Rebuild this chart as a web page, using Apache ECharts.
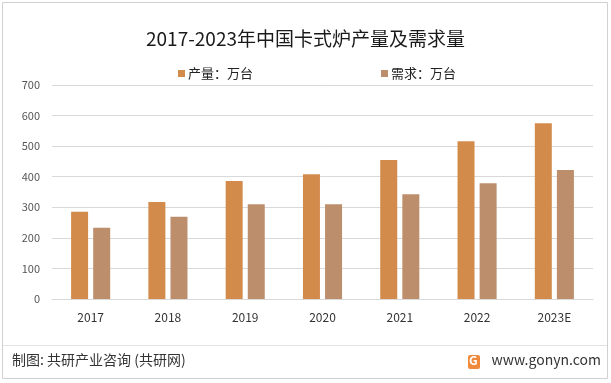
<!DOCTYPE html>
<html><head><meta charset="utf-8">
<script src="https://cdn.jsdelivr.net/npm/echarts@6/dist/echarts.min.js"></script>
<style>html,body{margin:0;padding:0;background:#fff}#c{width:611px;height:383px}</style>
</head><body><div id="c"></div>
<script>
var categories = ['2017','2018','2019','2020','2021','2022','2023E'];
var production = [285, 317, 386, 408, 455, 516, 575];
var demand = [233, 269, 310, 310, 343, 379, 422];
var seriesNames = ['产量：万台', '需求：万台'];
var yTicks = [0, 100, 200, 300, 400, 500, 600, 700];

var font = '"Noto Sans CJK SC", "Noto Sans", sans-serif';
var chart = echarts.init(document.getElementById('c'));
chart.setOption({
  backgroundColor: '#fff',
  animation: false,
  textStyle: {fontFamily: font},
  title: {
    text: '2017-2023年中国卡式炉产量及需求量',
    left: 'center', top: 24,
    textStyle: {fontSize: 19, fontWeight: 'normal', color: '#1a1a1a', fontFamily: font}
  },
  legend: {
    top: 62, left: 173,
    itemWidth: 7, itemHeight: 7, itemGap: 128,
    icon: 'rect',
    textStyle: {fontSize: 13, color: '#222', padding: [0,0,0,-2]},
    data: seriesNames
  },
  grid: {left: 52, right: 18, top: 85, bottom: 84},
  xAxis: {
    type: 'category', data: categories,
    axisLine: {lineStyle: {color: '#d9d9d9'}},
    axisTick: {show: false},
    axisLabel: {color: '#333', fontSize: 12, margin: 12}
  },
  yAxis: {
    type: 'value', min: yTicks[0], max: yTicks[yTicks.length-1], interval: 100,
    axisLine: {show: false}, axisTick: {show: false},
    axisLabel: {color: '#555', fontSize: 11, margin: 12},
    splitLine: {lineStyle: {color: '#d9d9d9'}}
  },
  series: [
    {name: seriesNames[0], type: 'bar', data: production, barWidth: 17, barGap: '30%',
     itemStyle: {color: '#D38B4C'}},
    {name: seriesNames[1], type: 'bar', data: demand, barWidth: 17,
     itemStyle: {color: '#BC8E6C'}}
  ],
  graphic: [
    {type: 'rect', shape: {x: 2.5, y: 2.5, width: 605, height: 376}, style: {fill: 'none', stroke: '#d0d0d0', lineWidth: 1}, silent: true},
    {type: 'line', shape: {x1: 3, y1: 345.5, x2: 607, y2: 345.5}, style: {stroke: '#e3e3e3', lineWidth: 1}},
    {type: 'text', left: 12, top: 353, style: {text: '制图: 共研产业咨询 (共研网)', fontSize: 14, fill: '#333', fontFamily: font}},
    {type: 'rect', shape: {x: 468, y: 355, width: 12, height: 14, r: 2}, style: {fill: '#F08A3A'}},
    {type: 'text', left: 469, top: 354, style: {text: 'G', fontSize: 12, fontWeight: 'bold', fill: '#fff', fontFamily: font}},
    {type: 'text', right: 10, top: 353, style: {text: 'www.gonyn.com', fontSize: 14, fill: '#333', fontFamily: font}}
  ]
});
</script></body></html>
